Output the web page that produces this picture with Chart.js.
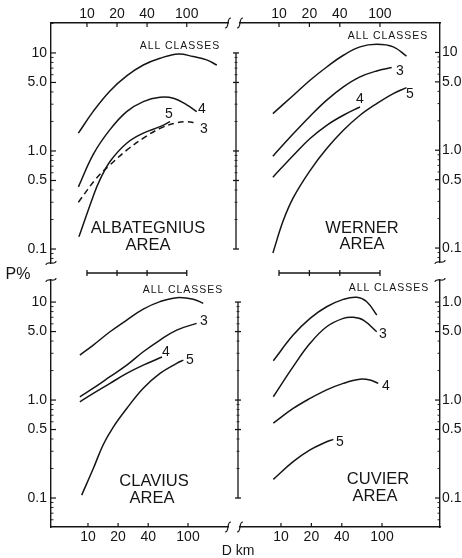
<!DOCTYPE html>
<html><head><meta charset="utf-8">
<script src="https://cdn.jsdelivr.net/npm/chart.js@4.4.1/dist/chart.umd.min.js"></script>
<style>
html,body{margin:0;padding:0;background:#fff;}
#wrap{position:relative;width:462px;height:558px;overflow:hidden;background:#fff;}
#wrap canvas{position:absolute;left:0;top:0;}
.t{position:absolute;transform:translate(-50%,-50%);font-family:'Liberation Sans',Arial,sans-serif;color:#151515;white-space:nowrap;line-height:1;}
.ac{font-size:10.5px;letter-spacing:1px;}
.ttl{font-size:16.5px;}
.cn{font-size:14px;}
.big{font-size:16px;}
</style></head><body>
<div id="wrap">
<canvas id="cTL" width="462" height="558"></canvas>
<canvas id="cTR" width="462" height="558"></canvas>
<canvas id="cBL" width="462" height="558"></canvas>
<canvas id="cBR" width="462" height="558"></canvas>

<div class="t ac" style="left:180px;top:45px">ALL CLASSES</div>
<div class="t cn" style="left:202px;top:108px">4</div>
<div class="t cn" style="left:169px;top:113px">5</div>
<div class="t cn" style="left:204px;top:128px">3</div>
<div class="t ttl" style="left:148px;top:227px">ALBATEGNIUS</div>
<div class="t ttl" style="left:148px;top:244px">AREA</div>

<div class="t ac" style="left:388px;top:35px">ALL CLASSES</div>
<div class="t cn" style="left:400px;top:70px">3</div>
<div class="t cn" style="left:360px;top:98px">4</div>
<div class="t cn" style="left:410px;top:93px">5</div>
<div class="t ttl" style="left:362px;top:227px">WERNER</div>
<div class="t ttl" style="left:362px;top:243px">AREA</div>

<div class="t ac" style="left:183px;top:289px">ALL CLASSES</div>
<div class="t cn" style="left:204px;top:320px">3</div>
<div class="t cn" style="left:166px;top:351px">4</div>
<div class="t cn" style="left:190px;top:359px">5</div>
<div class="t ttl" style="left:154px;top:480px">CLAVIUS</div>
<div class="t ttl" style="left:152px;top:497px">AREA</div>

<div class="t ac" style="left:389px;top:287px">ALL CLASSES</div>
<div class="t cn" style="left:383px;top:333px">3</div>
<div class="t cn" style="left:386px;top:385px">4</div>
<div class="t cn" style="left:340px;top:441px">5</div>
<div class="t ttl" style="left:378px;top:478px">CUVIER</div>
<div class="t ttl" style="left:375px;top:495px">AREA</div>

<div class="t big" style="left:18px;top:274px">P%</div>
<div class="t" style="left:238px;top:550px;font-size:14px">D km</div>
</div>
<script>
const INK = '#151515';
const FONT = "'Liberation Sans', Arial, sans-serif";

// Tick values / labels
const xTickValues = [10, 20, 40, 100];
const xTickLabels = ['10', '20', '40', '100'];
const yTickValues = [10, 5, 1, 0.5, 0.1];
const yTickLabels = ['10', '5.0', '1.0', '0.5', '0.1'];
const yTickLabelsCuvier = ['1.0', '5.0', '1.0', '0.5', '0.1'];

// Albategnius area (D km, P %)
const albAllD = [8.2, 11.6, 17.0, 25.0, 36.7, 54.0, 82.4, 116, 158, 200];
const albAllP = [1.52, 2.55, 4.1, 5.83, 7.53, 8.83, 9.77, 9.18, 8.5, 7.53];
const alb3D = [8.2, 12.5, 17.0, 25.0, 36.7, 54.0, 79.4, 100, 126];
const alb3P = [0.30, 0.53, 0.72, 1.02, 1.35, 1.70, 1.94, 1.99, 1.92];
const alb4D = [8.2, 11.6, 17.0, 25.0, 36.7, 54.0, 73.5, 100, 126];
const alb4P = [0.43, 0.93, 1.65, 2.52, 3.19, 3.53, 3.45, 2.95, 2.52];
const alb5D = [8.3, 11.6, 13.5, 17.0, 25.0, 36.7, 54.0, 68];
const alb5P = [0.133, 0.35, 0.51, 0.78, 1.20, 1.52, 1.77, 1.99];

// Werner area
const werAllD = [8.7, 13.9, 20.3, 29.7, 43.4, 63.4, 92.7, 135.5, 183];
const werAllP = [2.37, 3.65, 5.2, 7.1, 9.36, 11.4, 12.1, 11.4, 9.15];
const wer3D = [8.7, 13.9, 20.3, 29.7, 43.4, 63.4, 92.7, 130.6];
const wer3P = [0.87, 1.48, 2.23, 3.25, 4.44, 5.62, 6.47, 7.0];
const wer4D = [8.7, 13.9, 20.3, 29.7, 43.4, 63.4];
const wer4P = [0.53, 0.89, 1.32, 1.80, 2.28, 2.77];
const wer5D = [8.7, 11.0, 13.9, 20.3, 29.7, 43.4, 63.4, 92.7, 135.5, 183];
const wer5P = [0.089, 0.19, 0.33, 0.62, 1.04, 1.60, 2.28, 3.0, 3.8, 4.37];

// Clavius area
const clvAllD = [8.3, 11.3, 16.6, 24.4, 35.7, 52.5, 77.1, 113, 142];
const clvAllP = [2.88, 3.64, 4.98, 6.55, 8.47, 10.1, 11.1, 10.7, 9.7];
const clv3D = [8.3, 11.3, 16.6, 24.4, 35.7, 52.5, 77.1, 122];
const clv3P = [1.08, 1.32, 1.73, 2.27, 3.11, 4.1, 5.18, 6.06];
const clv4D = [8.3, 11.3, 16.6, 24.4, 35.7, 55];
const clv4P = [0.96, 1.17, 1.48, 1.87, 2.27, 2.75];
const clv5D = [8.65, 11.3, 14.2, 17.9, 24.4, 35.7, 52.5, 77.1, 89.8];
const clv5P = [0.107, 0.20, 0.35, 0.53, 0.82, 1.32, 1.87, 2.37, 2.56];

// Cuvier area
const cuvAllD = [8.4, 13.2, 19.4, 28.3, 41.4, 56.2, 70.6, 88.7];
const cuvAllP = [2.52, 4.6, 6.82, 8.96, 10.65, 11.2, 10.07, 7.37];
const cuv3D = [8.4, 13.2, 19.4, 28.3, 41.4, 52, 65.3, 88.7];
const cuv3P = [1.08, 2.19, 3.79, 5.6, 6.82, 6.98, 6.55, 4.98];
const cuv4D = [8.4, 13.2, 19.4, 28.3, 41.4, 60.5, 76, 91.8];
const cuv4P = [0.58, 0.82, 1.04, 1.27, 1.48, 1.63, 1.60, 1.48];
const cuv5D = [8.4, 13.2, 19.4, 28.3, 33.0];
const cuv5P = [0.155, 0.235, 0.31, 0.375, 0.397];

function minorValues(lo, hi) {
  const out = [];
  for (let k = -3; k <= 2; k++) for (let m = 1; m <= 9; m++) {
    const v = m * Math.pow(10, k);
    if (v > lo && v < hi) out.push(v);
  }
  return out;
}

const decor = {
  id: 'decor',
  afterDraw(chart, args, o) {
    const ctx = chart.ctx, a = chart.chartArea, xs = chart.scales.x, ys = chart.scales.y;
    ctx.save();
    ctx.strokeStyle = INK;
    ctx.lineWidth = 1.2;
    const seg = (x1, y1, x2, y2) => { ctx.beginPath(); ctx.moveTo(x1, y1); ctx.lineTo(x2, y2); ctx.stroke(); };
    const xe = xs.position === 'top' ? a.top : a.bottom, xd = xs.position === 'top' ? 1 : -1;
    xs.ticks.forEach(t => { const p = xs.getPixelForValue(t.value); seg(p, xe, p, xe + xd * 4); });
    const ye = ys.position === 'left' ? a.left : a.right, yd = ys.position === 'left' ? 1 : -1;
    ys.ticks.forEach(t => { const p = ys.getPixelForValue(t.value); seg(ye, p, ye + yd * 5, p); });
    ctx.lineWidth = 0.9;
    minorValues(ys.min, ys.max).forEach(v => {
      if (yTickValues.includes(v)) return;
      const p = ys.getPixelForValue(v); seg(ye, p, ye + yd * 2.5, p);
    });
    ctx.lineWidth = 1.2;
    const hb = (x, y) => { ctx.beginPath(); ctx.moveTo(x - 3, y + 5); ctx.quadraticCurveTo(x - 0.5, y + 5, x, y); ctx.quadraticCurveTo(x + 0.5, y - 5, x + 3, y - 5); ctx.stroke(); };
    const vb = (x, y) => { ctx.beginPath(); ctx.moveTo(x - 5, y + 2); ctx.quadraticCurveTo(x - 5, y - 0.5, x, y); ctx.quadraticCurveTo(x + 5, y + 0.5, x + 5, y - 2); ctx.stroke(); };
    if (o.hBreak) hb(o.hBreak === 'right' ? a.right : a.left, xe);
    if (o.vBreak) vb(ye, o.vBreak === 'bottom' ? a.bottom : a.top);
    if (o.hbar) {
      const y = a.bottom + o.hbar;
      const x1 = xs.getPixelForValue(xTickValues[0]), x2 = xs.getPixelForValue(xTickValues[xTickValues.length - 1]);
      ctx.lineWidth = 1.3;
      seg(x1, y, x2, y);
      xTickValues.forEach(v => { const p = xs.getPixelForValue(v); seg(p, y - 3, p, y + 3); });
    }
    if (o.vbar) {
      const x = a.right + o.vbar;
      const y1 = ys.getPixelForValue(yTickValues[0]), y2 = ys.getPixelForValue(yTickValues[yTickValues.length - 1]);
      ctx.lineWidth = 1.3;
      seg(x, y1, x, y2);
      yTickValues.forEach(v => { const p = ys.getPixelForValue(v); seg(x - 3, p, x + 3, p); });
      ctx.lineWidth = 0.8;
      minorValues(0.1, 10).forEach(v => {
        if (yTickValues.includes(v)) return;
        const p = ys.getPixelForValue(v); seg(x - 1.5, p, x + 1.5, p);
      });
    }
    ctx.restore();
  }
};

function panel(id, cfg) {
  return new Chart(document.getElementById(id), {
    type: 'line',
    data: {
      datasets: cfg.series.map(s => ({
        data: s.D.map((d, i) => ({ x: d, y: s.P[i] })),
        borderColor: INK,
        borderWidth: 1.5,
        borderDash: s.dash || [],
        pointRadius: 0,
        fill: false,
        tension: 0.4
      }))
    },
    options: {
      responsive: false, animation: false, events: [], devicePixelRatio: 1,
      layout: { padding: cfg.pad },
      plugins: { legend: { display: false }, tooltip: { enabled: false }, decor: cfg.decor },
      scales: {
        x: {
          type: 'logarithmic', position: cfg.xPos, min: cfg.xMin, max: cfg.xMax, bounds: 'data',
          afterBuildTicks: s => { s.ticks = xTickValues.map(v => ({ value: v })); },
          afterFit: s => { s.height = cfg.xH; },
          ticks: { autoSkip: false, maxRotation: 0, minRotation: 0, padding: cfg.xPad, color: INK,
                   font: { family: FONT, size: 14 }, callback: (v, i) => xTickLabels[i] },
          grid: { display: false, drawTicks: false },
          border: { display: true, color: INK, width: 1.4 }
        },
        y: {
          type: 'logarithmic', position: cfg.yPos, min: cfg.yMin, max: cfg.yMax, bounds: 'data',
          afterBuildTicks: s => { s.ticks = yTickValues.map(v => ({ value: v })); },
          afterFit: s => { s.width = cfg.yW; },
          ticks: { autoSkip: false, padding: cfg.yPad, color: INK,
                   font: { family: FONT, size: 14 }, callback: (v, i) => cfg.yLabels[i] },
          grid: { display: false, drawTicks: false },
          border: { display: true, color: INK, width: 1.4 }
        }
      }
    },
    plugins: [decor]
  });
}

panel('cTL', {
  pad: { left: 0, top: 0, right: 234, bottom: 295 },
  xPos: 'top', xH: 23, xPad: 0, xMin: 4.36, xMax: 259,
  yPos: 'left', yW: 51, yPad: 4, yMin: 0.072, yMax: 20.2, yLabels: yTickLabels,
  decor: { hBreak: 'right', vBreak: 'bottom', hbar: 10, vbar: 8 },
  series: [
    { D: albAllD, P: albAllP },
    { D: alb4D, P: alb4P },
    { D: alb5D, P: alb5P },
    { D: alb3D, P: alb3P, dash: [6, 4] }
  ]
});

panel('cTR', {
  pad: { left: 240, top: 0, right: 0, bottom: 296 },
  xPos: 'top', xH: 23, xPad: 0, xMin: 4.11, xMax: 393,
  yPos: 'right', yW: 22, yPad: 2, yMin: 0.072, yMax: 20, yLabels: yTickLabels,
  decor: { hBreak: 'left', vBreak: 'bottom', hbar: 11 },
  series: [
    { D: werAllD, P: werAllP },
    { D: wer3D, P: wer3P },
    { D: wer4D, P: wer4P },
    { D: wer5D, P: wer5P }
  ]
});

panel('cBL', {
  pad: { left: 0, top: 280, right: 234, bottom: 0 },
  xPos: 'bottom', xH: 31, xPad: 2, xMin: 4.27, xMax: 251,
  yPos: 'left', yW: 51, yPad: 4, yMin: 0.0506, yMax: 16.8, yLabels: yTickLabels,
  decor: { hBreak: 'right', vBreak: 'top', vbar: 10 },
  series: [
    { D: clvAllD, P: clvAllP },
    { D: clv3D, P: clv3P },
    { D: clv4D, P: clv4P },
    { D: clv5D, P: clv5P }
  ]
});

panel('cBR', {
  pad: { left: 240, top: 280, right: 0, bottom: 0 },
  xPos: 'bottom', xH: 31, xPad: 2, xMin: 3.93, xMax: 375,
  yPos: 'right', yW: 22, yPad: 2, yMin: 0.0506, yMax: 16.8, yLabels: yTickLabelsCuvier,
  decor: { hBreak: 'left', vBreak: 'top' },
  series: [
    { D: cuvAllD, P: cuvAllP },
    { D: cuv3D, P: cuv3P },
    { D: cuv4D, P: cuv4P },
    { D: cuv5D, P: cuv5P }
  ]
});
</script>
</body></html>
